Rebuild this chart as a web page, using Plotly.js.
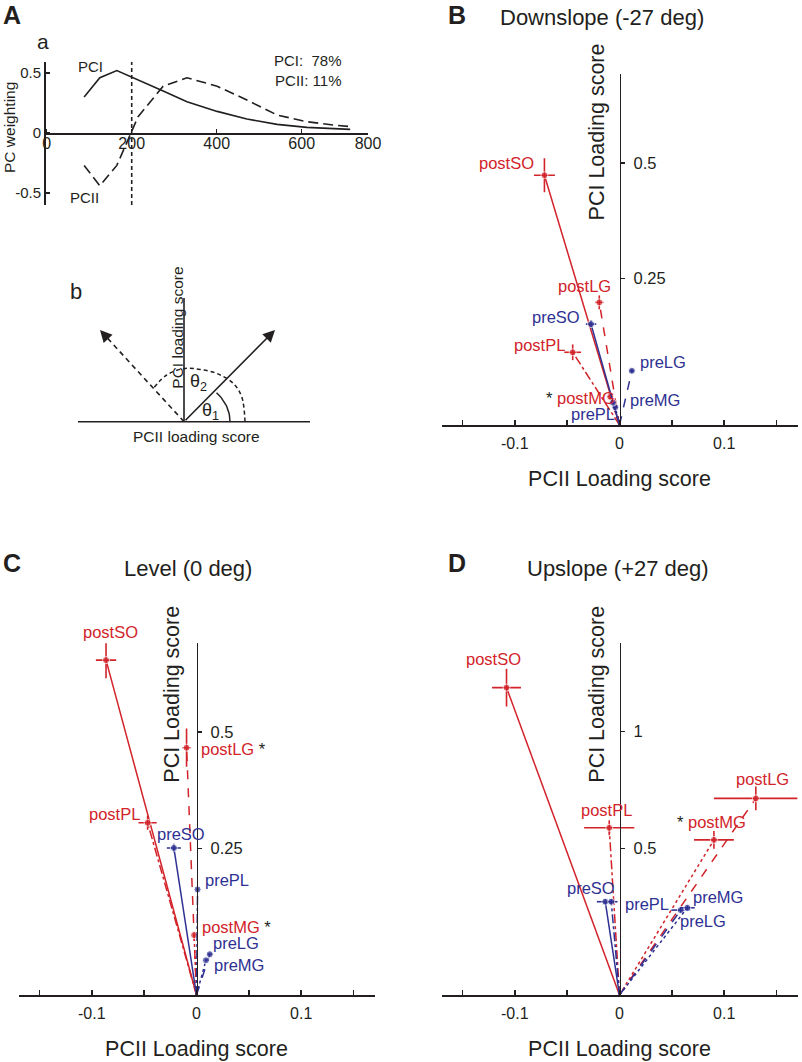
<!DOCTYPE html>
<html><head><meta charset="utf-8">
<script src="https://cdn.plot.ly/plotly-3.0.1.min.js"></script>
<style>html,body{margin:0;padding:0;background:#fff}#chart{width:802px;height:1062px}</style>
</head><body><div id="chart"></div>
<script>
// ================= DATA =================
// Panel A(a): principal component weightings vs frequency
const freqBins   = [88, 125, 165, 215, 274, 330, 401, 471, 542, 612, 674, 714];
const pcIWeight  = [0.30, 0.46, 0.52, 0.445, 0.35, 0.26, 0.18, 0.117, 0.072, 0.047, 0.036, 0.03];
const pcIIWeight = [-0.27, -0.44, -0.27, 0.136, 0.39, 0.46, 0.39, 0.275, 0.15, 0.094, 0.067, 0.053];
const varianceText = ['PCI:  78%', 'PCII: 11%'];
const dividerFreq = 200;
const aXTickVals = [0, 200, 400, 600, 756];
const aXTickText = ['0', '200', '400', '600', '800'];
const aYTickVals = [-0.5, 0, 0.5];
const aYTickText = ['-0.5', '0', '0.5'];

// Panels B-D: loading scores (order of muscles below)
const muscles = ['SO', 'LG', 'PL', 'MG'];
// Downslope (-27 deg)
const downPreX  = [-0.0272, 0.0118, -0.0040, -0.0063];
const downPreY  = [0.151, 0.050, -0.029, -0.019];
const downPreEx = [0.005, 0.002, 0.002, 0.002];
const downPreEy = [0.009, 0.004, 0.003, 0.003];
const downPostX  = [-0.0717, -0.0193, -0.0447, -0.0089];
const downPostY  = [0.473, 0.198, 0.090, -0.006];
const downPostEx = [0.010, 0.004, 0.008, 0.002];
const downPostEy = [0.037, 0.015, 0.017, 0.004];
// Level (0 deg)
const levelPreX  = [-0.0216, 0.0127, 0.0010, 0.0090];
const levelPreY  = [0.251, 0.023, 0.162, 0.010];
const levelPreEx = [0.0067, 0.002, 0.001, 0.001];
const levelPreEy = [0.009, 0.003, 0.003, 0.003];
const levelPostX  = [-0.0864, -0.0095, -0.0467, -0.0023];
const levelPostY  = [0.654, 0.466, 0.305, 0.064];
const levelPostEx = [0.0097, 0.004, 0.0087, 0.001];
const levelPostEy = [0.039, 0.041, 0.015, 0.003];
// Upslope (+27 deg)
const upPreX  = [-0.0136, 0.0585, -0.0079, 0.0648];
const upPreY  = [0.271, 0.235, 0.271, 0.245];
const upPreEx = [0.008, 0.009, 0.006, 0.007];
const upPreEy = [0.010, 0.010, 0.010, 0.010];
const upPostX  = [-0.1079, 0.1302, -0.0098, 0.0902];
const upPostY  = [1.189, 0.714, 0.588, 0.536];
const upPostEx = [0.0138, 0.040, 0.024, 0.019];
const upPostEy = [0.081, 0.051, 0.032, 0.038];

const xTickVals = [-0.15, -0.1, -0.05, 0, 0.05, 0.1, 0.15];
const xTickText = ['', '-0.1', '', '0', '', '0.1', ''];
const yTicksDown = [0.25, 0.5];
const yTicksLevel = [0.25, 0.5];
const yTicksUp = [0.5, 1];

// ================= STYLE / LAYOUT =================
const F = 'Arial, "Liberation Sans", Helvetica, sans-serif';
const K = '#231f20', RED = '#d2232a', BLUE = '#2e3192';
const W = 802, H = 1062;
const fx = p => p / W, fy = p => 1 - p / H;
const dashes = ['solid', 'dash', 'dashdot', 'dot'];

const traces = [];
const annotations = [];
const layout = {
  width: W, height: H, margin: {l: 0, r: 0, t: 0, b: 0},
  paper_bgcolor: '#ffffff', plot_bgcolor: 'rgba(0,0,0,0)',
  showlegend: false, hovermode: false,
  font: {family: F, color: K}, annotations: annotations
};

function txt(xp, yp, text, size, extra) {
  return Object.assign({xref: 'paper', yref: 'paper', x: fx(xp), y: fy(yp), text: text,
    showarrow: false, xanchor: 'center', yanchor: 'middle',
    font: {family: F, size: size, color: K}}, extra || {});
}

// ---------- Panel A(a) ----------
const aXRange = [-6.4, 756], aYRange = [-0.6, 0.594];
const aYDom = [fy(205), fy(61.7)];
layout.xaxis = {
  domain: [fx(44), fx(368)], range: aXRange, anchor: 'free',
  position: aYDom[0] + (0 - aYRange[0]) / (aYRange[1] - aYRange[0]) * (aYDom[1] - aYDom[0]),
  showline: true, linecolor: K, linewidth: 1.6, ticks: 'inside', ticklen: 4, tickwidth: 1.4, tickcolor: K,
  tickmode: 'array', tickvals: aXTickVals, ticktext: aXTickText, tickfont: {size: 16, color: K},
  ticklabelstandoff: -5,
  showgrid: false, zeroline: false, fixedrange: true
};
layout.yaxis = {
  domain: aYDom, range: aYRange, anchor: 'free', position: fx(44), side: 'left',
  showline: true, linecolor: K, linewidth: 1.6, ticks: 'inside', ticklen: 4, tickwidth: 1.4, tickcolor: K,
  tickmode: 'array', tickvals: aYTickVals, ticktext: aYTickText, tickfont: {size: 15, color: K},
  showgrid: false, zeroline: false, fixedrange: true
};
traces.push({type: 'scatter', x: freqBins, y: pcIWeight, xaxis: 'x', yaxis: 'y', mode: 'lines',
  line: {color: K, width: 1.6}});
traces.push({type: 'scatter', x: freqBins, y: pcIIWeight, xaxis: 'x', yaxis: 'y', mode: 'lines',
  line: {color: K, width: 1.6, dash: '10px,5px'}});
traces.push({type: 'scatter', x: [dividerFreq, dividerFreq], y: aYRange, xaxis: 'x', yaxis: 'y', mode: 'lines',
  line: {color: K, width: 1.6, dash: '4px,3px'}});
annotations.push(txt(9, 128, 'PC weighting', 15.5, {textangle: -90}));
annotations.push(txt(90, 66.7, 'PCI', 15));
annotations.push(txt(84, 198, 'PCII', 15));
annotations.push(txt(344, 70.5, varianceText.join('<br>'), 15, {xanchor: 'right', align: 'right'}));
annotations.push(txt(11.7, 15, '<b>A</b>', 25));
annotations.push(txt(43, 42, 'a', 21));

// ---------- Panel A(b): schematic ----------
layout.xaxis5 = {domain: [fx(74), fx(314)], range: [-110, 130], visible: false, anchor: 'y5', fixedrange: true};
layout.yaxis5 = {domain: [fy(445), fy(285)], range: [-23.3, 136.7], visible: false, anchor: 'x5', fixedrange: true};
const sch = {
  hLine: [-106, 126], vTop: 123.7,
  solidTip: [91, 91.7], dashTip: [-84, 91.7],
  arc1: {rx: 46, ry: 41, deg: 45},
  arc2: [[61, 0], [57.7, 25], [49.3, 38.3], [32.7, 48.3], [16, 52.3], [1, 53.3], [-17.3, 46.7], [-30.7, 33.3]]
};
const s5 = {xaxis: 'x5', yaxis: 'y5', type: 'scatter', mode: 'lines'};
traces.push(Object.assign({x: sch.hLine, y: [0, 0], line: {color: K, width: 1.6}}, s5));
traces.push(Object.assign({x: [0, 0], y: [0, sch.vTop], line: {color: K, width: 1.6}}, s5));
traces.push(Object.assign({x: [0, sch.dashTip[0]], y: [0, sch.dashTip[1]], line: {color: K, width: 1.6, dash: '5px,4px'}}, s5));
const a1x = [], a1y = [];
for (let d = 0; d <= sch.arc1.deg; d += 3) {
  a1x.push(sch.arc1.rx * Math.cos(d * Math.PI / 180));
  a1y.push(sch.arc1.ry * Math.sin(d * Math.PI / 180));
}
traces.push(Object.assign({x: a1x, y: a1y, line: {color: K, width: 1.5}}, s5));
traces.push(Object.assign({x: sch.arc2.map(p => p[0]), y: sch.arc2.map(p => p[1]),
  line: {color: K, width: 1.5, dash: '4px,3px', shape: 'spline'}}, s5));
annotations.push({xref: 'x5', yref: 'y5', axref: 'x5', ayref: 'y5', x: sch.solidTip[0], y: sch.solidTip[1],
  ax: 0, ay: 0, text: '', showarrow: true, arrowhead: 2, arrowsize: 1.5, arrowwidth: 1.6, arrowcolor: K, standoff: 0});
const dlen = Math.hypot(sch.dashTip[0], sch.dashTip[1]);
annotations.push({xref: 'x5', yref: 'y5', axref: 'x5', ayref: 'y5', x: sch.dashTip[0], y: sch.dashTip[1],
  ax: sch.dashTip[0] * (1 - 7 / dlen), ay: sch.dashTip[1] * (1 - 7 / dlen), text: '', showarrow: true,
  arrowhead: 2, arrowsize: 1.5, arrowwidth: 1.6, arrowcolor: K, standoff: 0});
annotations.push(txt(176.7, 328, 'PCI loading score', 15.5, {textangle: -90}));
annotations.push(txt(196.7, 436.7, 'PCII loading score', 15.5));
annotations.push(txt(198, 382.7, 'θ<sub>2</sub>', 18));
annotations.push(txt(210, 411.7, 'θ<sub>1</sub>', 18));
annotations.push(txt(76, 291.7, 'b', 22));

// ---------- Panels B, C, D ----------
const xRange = [-0.17, 0.17];
const panels = [
  {n: 2, letter: 'B', title: 'Downslope (-27 deg)', letterPos: [456.7, 15], titlePos: [601.7, 18], yTitlePos: [596.7, 131.7],
   px: [441.5, 797.5], py: [74, 425], yRange: [-0.0673, 0.692], yTicks: yTicksDown,
   pre: {x: downPreX, y: downPreY, ex: downPreEx, ey: downPreEy},
   post: {x: downPostX, y: downPostY, ex: downPostEx, ey: downPostEy},
   stars: {postMG: 'before'},
   labels: {preSO: ['right', -9, -7], preLG: ['left', 6, -9], prePL: ['right', 2, 7], preMG: ['left', 15, -3],
            postSO: ['right', -8, -12], postLG: ['center', -15, -16], postPL: ['right', -6, -7], postMG: ['right', 6.7, 1]}},
  {n: 3, letter: 'C', title: 'Level (0 deg)', letterPos: [11.7, 563.3], titlePos: [188.3, 568.3], yTitlePos: [171.7, 694],
   px: [18.5, 374.5], py: [643.3, 995], yRange: [-0.0645, 0.69], yTicks: yTicksLevel,
   pre: {x: levelPreX, y: levelPreY, ex: levelPreEx, ey: levelPreEy},
   post: {x: levelPostX, y: levelPostY, ex: levelPostEx, ey: levelPostEy},
   stars: {postLG: 'after', postMG: 'after'},
   labels: {preSO: ['center', 7.5, -14], preLG: ['left', 1, -11], prePL: ['left', 5, -9], preMG: ['left', 6, 5],
            postSO: ['center', 4, -28], postLG: ['left', 12, 1], postPL: ['right', -6, -9], postMG: ['left', 6, -8]}},
  {n: 4, letter: 'D', title: 'Upslope (+27 deg)', letterPos: [456.7, 563.3], titlePos: [618.3, 568.3], yTitlePos: [596.7, 694],
   px: [441.5, 797.5], py: [643.3, 995], yRange: [-0.129, 1.379], yTicks: yTicksUp,
   pre: {x: upPreX, y: upPreY, ex: upPreEx, ey: upPreEy},
   post: {x: upPostX, y: upPostY, ex: upPostEx, ey: upPostEy},
   stars: {postMG: 'before'},
   labels: {preSO: ['center', -14, -14], preLG: ['left', -3, 11], prePL: ['left', 12, 2], preMG: ['left', 4, -11],
            postSO: ['center', -13, -29], postLG: ['center', 7, -19], postPL: ['center', -3, -18], postMG: ['right', 33.7, -18]}}
];

panels.forEach(p => {
  const xa = 'x' + p.n, ya = 'y' + p.n;
  const xd = [fx(p.px[0]), fx(p.px[1])];
  layout['xaxis' + p.n] = {
    domain: xd, range: xRange, anchor: ya,
    showline: true, linecolor: K, linewidth: 1.8, ticks: 'inside', ticklen: 5, tickwidth: 1.5, tickcolor: K,
    tickmode: 'array', tickvals: xTickVals, ticktext: xTickText, tickfont: {size: 16, color: K},
    ticklabelstandoff: 3,
    showgrid: false, zeroline: false, fixedrange: true,
    title: {text: 'PCII Loading score', font: {size: 21.5, color: K}, standoff: 20}
  };
  layout['yaxis' + p.n] = {
    domain: [fy(p.py[1]), fy(p.py[0])], range: p.yRange, anchor: 'free',
    position: xd[0] + (0 - xRange[0]) / (xRange[1] - xRange[0]) * (xd[1] - xd[0]), side: 'right',
    showline: true, linecolor: K, linewidth: 1.8, ticks: 'outside', ticklen: 4, tickwidth: 1.5, tickcolor: K,
    tickmode: 'array', tickvals: p.yTicks, ticktext: p.yTicks.map(String), tickfont: {size: 16.5, color: K},
    ticklabelstandoff: 5,
    showgrid: false, zeroline: false, fixedrange: true
  };
  ['post', 'pre'].forEach(cond => {
    const d = p[cond], col = cond === 'pre' ? BLUE : RED;
    muscles.forEach((m, i) => {
      traces.push({type: 'scatter', xaxis: xa, yaxis: ya, mode: 'lines+markers',
        x: [0, d.x[i]], y: [p.yRange[0], d.y[i]],
        line: {color: col, width: 1.5, dash: dashes[i]},
        marker: {size: [0, 7], color: col},
        error_x: {type: 'data', array: [0, d.ex[i]], color: col, thickness: 1.6, width: 0},
        error_y: {type: 'data', array: [0, d.ey[i]], color: col, thickness: 1.6, width: 0}});
      const key = cond + m, lab = p.labels[key];
      let text = key;
      const star = '<span style="color:' + K + '">*</span>';
      if (p.stars[key] === 'before') text = star + ' ' + key;
      if (p.stars[key] === 'after') text = key + ' ' + star;
      annotations.push({xref: xa, yref: ya, x: d.x[i], y: d.y[i], text: text, showarrow: false,
        xanchor: lab[0], yanchor: 'middle', xshift: lab[1], yshift: -lab[2],
        font: {family: F, size: 16.5, color: col}});
    });
  });
  annotations.push(txt(p.letterPos[0], p.letterPos[1], '<b>' + p.letter + '</b>', 25));
  annotations.push(txt(p.titlePos[0], p.titlePos[1], p.title, 22));
  annotations.push(txt(p.yTitlePos[0], p.yTitlePos[1], 'PCI Loading score', 21.5, {textangle: -90}));
});

Plotly.newPlot('chart', traces, layout, {staticPlot: true, displayModeBar: false});
</script>
</body></html>
